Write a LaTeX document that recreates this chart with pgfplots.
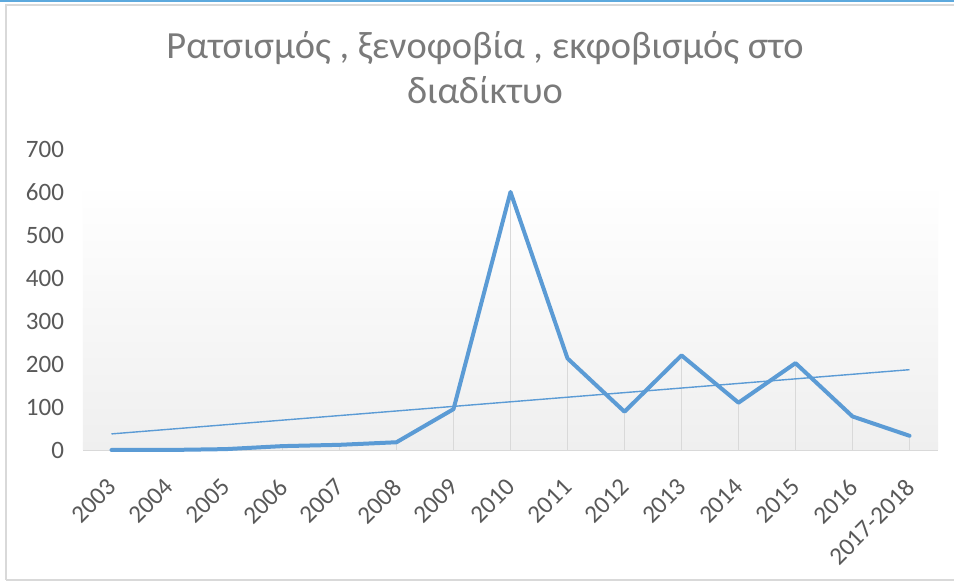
\documentclass[border=0pt]{standalone}
\usepackage{fontspec}
\setmainfont{Carlito}
\usepackage{pgfplots}
\usepackage{pgfplotstable}
\pgfplotsset{compat=1.18}
\definecolor{exblue}{HTML}{5B9BD5}
\definecolor{txtgray}{HTML}{595959}
\definecolor{titlegray}{HTML}{7A7A7A}
\definecolor{framegray}{HTML}{D9D9D9}
\definecolor{bggray}{HTML}{EFEFEF}
\definecolor{topblue}{HTML}{5DA9DD}
\pgfplotstableread{
x y
0 0
1 0
2 2
3 9
4 12
5 18
6 95
7 600
8 213
9 89
10 220
11 110
12 202
13 78
14 33
}\data
\begin{document}
\begin{tikzpicture}
\path[use as bounding box] (0pt,0pt) rectangle (477pt,290.5pt);
\fill[white] (0pt,0pt) rectangle (477pt,290.5pt);
\fill[topblue] (0pt,289.6pt) rectangle (477pt,290.5pt);
\draw[framegray, line width=1pt] (3pt,0.5pt) -- (3pt,288pt) -- (477pt,288pt);
\draw[framegray, line width=0.8pt] (3pt,0.6pt) -- (477pt,0.6pt);
\begin{axis}[
  at={(41.5pt,65.5pt)}, anchor=south west,
  scale only axis, width=427.5pt, height=150.5pt,
  xmin=-0.5, xmax=14.5, ymin=0, ymax=700,
  ytick={0,100,...,700},
  xtick={0,...,14},
  xticklabels={2003,2004,2005,2006,2007,2008,2009,2010,2011,2012,2013,2014,2015,2016,2017-2018},
  axis x line=bottom, axis y line=left,
  axis line style={-},
  y axis line style={draw=none},
  x axis line style={draw=framegray, line width=0.75pt},
  major tick length=0pt,
  /pgf/number format/assume math mode=true,
  tick label style={font=\fontsize{12.5}{14}\selectfont, text=txtgray},
  yticklabel style={xshift=-6pt},
  xticklabel style={rotate=45, anchor=east, xshift=-8pt, yshift=-12pt},
  clip=false,
]
\path[top color=white, bottom color=bggray] (axis cs:-0.5,0) rectangle (axis cs:14.5,623);
\addplot[ycomb, draw=framegray, line width=0.5pt, no markers] table[x=x,y=y]{\data};
\addplot[exblue, line width=0.7pt, no markers] table[x=x, y={create col/linear regression={y=y}}]{\data};
\addplot[exblue, line width=2pt, line join=round, line cap=round, no markers] table[x=x,y=y]{\data};
\end{axis}
\node[anchor=base, text=titlegray, font=\fontsize{19.2}{22}\selectfont] at (242.5pt,261pt) {Ρατσισμός , ξενοφοβία , εκφοβισμός στο};
\node[anchor=base, text=titlegray, font=\fontsize{19.2}{22}\selectfont] at (242.5pt,238.5pt) {διαδίκτυο};
\end{tikzpicture}
\end{document}
